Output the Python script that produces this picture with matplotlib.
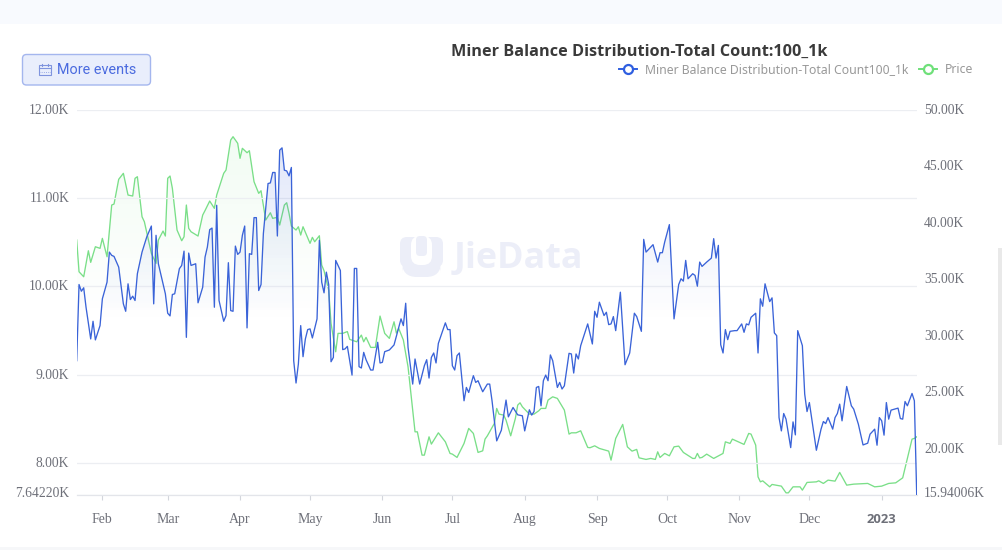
from matplotlib import pyplot as plt
from matplotlib.colors import to_rgb
from matplotlib.lines import Line2D
from matplotlib.patches import FancyBboxPatch, Rectangle
from matplotlib.transforms import ScaledTranslation
import numpy as np
import pandas as pd

plt.rcParams.update({
    'font.family': ['Liberation Serif', 'DejaVu Serif'],
    'figure.dpi': 100,
})

start_date = pd.Timestamp('2022-01-21')

# days since start_date / count
miner_days = [
    0, 1, 2, 3, 4, 6, 7, 8, 10, 11, 13, 14, 15, 16, 18, 20, 21, 22, 23, 24, 25, 26, 28, 30, 32, 33, 34, 35, 38, 39,
    40, 41, 42, 44, 45, 46, 47, 48, 49, 51, 52, 54, 55, 56, 57, 58, 59, 60, 61, 63, 64, 65, 66, 67, 68, 69, 70, 71,
    72, 73, 74, 75, 76, 77, 78, 79, 80, 82, 83, 84, 85, 86, 87, 88, 89, 90, 91, 92, 93, 94, 95, 96, 97, 98, 99, 100,
    101, 103, 104, 105, 106, 107, 108, 109, 110, 111, 113, 114, 115, 116, 118, 119, 120, 121, 122, 123, 124, 126,
    127, 129, 130, 131, 132, 134, 136, 139, 140, 141, 142, 144, 145, 147, 149, 150, 151, 152, 153, 154, 155, 158,
    159, 160, 161, 162, 163, 164, 166, 167, 168, 170, 171, 172, 174, 176, 177, 178, 180, 182, 184, 185, 187, 189,
    191, 192, 194, 195, 196, 197, 198, 199, 200, 201, 202, 203, 204, 206, 207, 208, 209, 211, 212, 213, 214, 215,
    216, 219, 221, 222, 223, 224, 226, 227, 228, 229, 230, 231, 233, 235, 237, 239, 240, 242, 243, 244, 247, 249,
    250, 251, 252, 254, 256, 258, 259, 260, 261, 262, 264, 265, 266, 267, 268, 270, 272, 273, 274, 275, 276, 277,
    278, 279, 280, 282, 283, 285, 286, 287, 288, 289, 291, 292, 293, 294, 295, 297, 298, 299, 300, 301, 302, 303,
    304, 306, 307, 308, 309, 311, 312, 313, 314, 317, 319, 320, 321, 322, 324, 325, 326, 327, 328, 330, 332, 333,
    335, 337, 339, 340, 342, 343, 344, 345, 346, 347, 348, 349, 352, 353, 354, 355, 356, 358, 359, 360,
]
miner_count = [
    9157, 10019, 9943, 9982, 9762, 9403, 9603, 9392, 9554, 9857, 10046, 10386, 10349, 10337, 10216, 9800, 9716,
    10027, 9849, 9887, 9838, 10141, 10386, 10556, 10681, 9800, 10576, 10254, 9914, 9694, 9664, 9906, 9914, 10198,
    10235, 10397, 9421, 10375, 10235, 10254, 9812, 9989, 10329, 10443, 10640, 10658, 9762, 10916, 9838, 9603, 9668,
    10266, 9724, 9716, 10454, 10360, 10386, 10576, 10681, 9528, 10368, 10360, 10776, 10776, 9951, 10019, 10595,
    11162, 11169, 11287, 11287, 10568, 11540, 11566, 11313, 11305, 11249, 11344, 9157, 8904, 9119, 9554, 9202, 9403,
    9509, 9517, 9414, 9630, 10519, 10046, 9925, 10159, 10019, 9145, 9194, 10292, 10178, 9282, 9290, 9319, 8994,
    10201, 10201, 9089, 9074, 9251, 9168, 9051, 9051, 9365, 9131, 9138, 9259, 9278, 9335, 9630, 9554, 9807, 9308,
    8892, 9176, 8892, 9100, 9168, 8960, 9194, 9244, 9131, 9353, 9585, 9509, 9509, 9100, 9051, 9214, 9244, 8703,
    8854, 8797, 8987, 8911, 8930, 8805, 8892, 8892, 8703, 8249, 8370, 8711, 8521, 8627, 8544, 8533, 8362, 8601,
    8541, 8581, 8854, 8865, 8646, 8930, 8994, 8930, 9222, 9157, 8854, 8911, 8836, 8873, 9240, 9233, 9017, 9233,
    9176, 9327, 9573, 9346, 9716, 9648, 9819, 9668, 9705, 9565, 9573, 9656, 9497, 9932, 9111, 9244, 9694, 9656,
    9489, 10530, 10386, 10470, 10273, 10379, 10379, 10500, 10697, 9630, 10019, 10084, 10057, 10292, 10084, 10141,
    10122, 10000, 10273, 10224, 10273, 10318, 10538, 10318, 10462, 9338, 9244, 9509, 9395, 9489, 9497, 9497, 9573,
    9478, 9573, 9562, 9648, 9694, 9244, 9857, 9773, 10027, 9826, 9868, 9471, 9440, 8513, 8362, 8559, 8495, 8173,
    8464, 8317, 9497, 9327, 8779, 8581, 8683, 8143, 8382, 8468, 8445, 8513, 8382, 8513, 8559, 8665, 8476, 8865,
    8646, 8609, 8438, 8203, 8223, 8325, 8382, 8200, 8513, 8476, 8314, 8683, 8495, 8597, 8620, 8502, 8495, 8695,
    8646, 8786, 8703, 7642,
]

price_days = [
    0, 1, 3, 5, 6, 8, 10, 11, 13, 15, 16, 18, 20, 22, 24, 25, 26, 28, 29, 32, 34, 35, 37, 38, 39, 40, 41, 43, 45,
    46, 47, 48, 49, 52, 54, 55, 57, 59, 60, 63, 64, 66, 67, 69, 70, 71, 73, 74, 76, 78, 79, 81, 83, 84, 86, 87, 89,
    90, 91, 92, 94, 95, 96, 97, 100, 101, 102, 104, 105, 106, 108, 109, 111, 112, 114, 116, 117, 120, 122, 123, 124,
    126, 128, 130, 132, 134, 136, 137, 138, 140, 142, 144, 145, 146, 148, 149, 151, 152, 155, 158, 160, 161, 163,
    166, 168, 170, 172, 174, 175, 176, 179, 180, 181, 183, 184, 186, 188, 189, 190, 191, 194, 196, 198, 199, 201,
    202, 204, 206, 209, 211, 212, 214, 216, 219, 220, 222, 224, 228, 229, 231, 234, 236, 238, 240, 241, 244, 246,
    248, 249, 250, 252, 254, 256, 258, 260, 264, 265, 266, 267, 268, 270, 273, 277, 278, 280, 281, 286, 288, 289,
    291, 292, 293, 294, 297, 298, 302, 304, 305, 307, 310, 311, 313, 317, 318, 320, 322, 325, 327, 330, 333, 339,
    342, 345, 348, 351, 354, 356, 358, 359, 360,
]
price = [
    38451, 35645, 35203, 37504, 36477, 37858, 37716, 38601, 36973, 41548, 41637, 43823, 44354, 42433, 42345, 43911,
    44053, 40513, 40070, 37274, 36389, 38451, 39247, 38805, 43911, 44115, 43026, 39336, 38389, 38743, 41548, 39486,
    39185, 38805, 40663, 41061, 41902, 41256, 42433, 44354, 44646, 47301, 47593, 47009, 45681, 46566, 46177, 46354,
    43610, 42584, 42814, 40221, 40867, 40371, 40460, 39778, 41548, 41752, 40814, 39690, 39336, 39628, 38893, 39628,
    38159, 38690, 38300, 38831, 36238, 35734, 34026, 31079, 28565, 30194, 30194, 30353, 29663, 29450, 30043, 29450,
    29840, 28955, 28955, 31725, 30194, 29751, 31220, 30220, 30636, 29601, 27238, 23406, 21485, 21485, 19423, 19423,
    21043, 20397, 21397, 20600, 19574, 19512, 19220, 20459, 21786, 21344, 19662, 19804, 20839, 21131, 22229, 23556,
    23052, 22963, 22521, 21131, 22671, 23848, 24052, 23698, 23052, 23052, 23344, 23556, 23556, 24291, 24583, 24441,
    23406, 21282, 21397, 21397, 21574, 20105, 20078, 20246, 20016, 19777, 18981, 20901, 22140, 20158, 19777, 19928,
    19184, 19043, 19131, 19043, 19715, 19220, 19574, 19361, 20158, 20220, 19662, 19131, 19131, 19574, 19175, 19220,
    19512, 19131, 19574, 20600, 20459, 20839, 20370, 21344, 21282, 20308, 17503, 17060, 17149, 16618, 16830, 16680,
    16087, 16087, 16618, 16618, 16326, 17007, 17060, 17149, 16919, 17211, 17122, 17892, 16768, 16857, 16919, 16618,
    16680, 16919, 16972, 17414, 19131, 20839, 20901, 21043,
]

left_ticks = [7642.2, 8000, 9000, 10000, 11000, 12000]
left_labels = ['7.64220K', '8.00K', '9.00K', '10.00K', '11.00K', '12.00K']
right_ticks = [15940.06, 20000, 25000, 30000, 35000, 40000, 45000, 50000]
right_labels = ['15.94006K', '20.00K', '25.00K', '30.00K', '35.00K', '40.00K', '45.00K', '50.00K']
month_labels = ['Feb', 'Mar', 'Apr', 'May', 'Jun', 'Jul', 'Aug', 'Sep', 'Oct', 'Nov', 'Dec', '2023']
month_days = (pd.date_range('2022-02-01', '2023-01-01', freq='MS') - start_date).days

title = 'Miner Balance Distribution-Total Count:100_1k'
miner_name = 'Miner Balance Distribution-Total Count100_1k'
price_name = 'Price'

blue = '#3A63D8'
green = '#7ADF88'
label_color = '#6E7079'
W, H = 1002, 550
UI_FONT = ['Noto Sans', 'DejaVu Sans']
BOLD_FONT = ['Open Sans', 'DejaVu Sans']


def gradient_fill(ax, x, y, color, alpha_top):
    """Fill under a line, fading out about half way down from the series top."""
    rgba = np.zeros((100, 1, 4))
    rgba[:, :, :3] = to_rgb(color)
    rgba[:, 0, 3] = alpha_top * np.clip(1 - np.linspace(0, 1, 100) / 0.5, 0, 1)
    y0 = ax.get_ylim()[0]
    im = ax.imshow(rgba, aspect='auto', origin='upper', zorder=1,
                   extent=[x[0], x[-1], y0, max(y)])
    poly = ax.fill_between(x, y0, y, color='none')
    im.set_clip_path(poly.get_paths()[0], transform=ax.transData)


def nudge_labels(ax, fig):
    """Value labels sit a little above their grid lines, the lowest one more."""
    ticks = ax.yaxis.get_major_ticks()
    for i, tick in enumerate(ticks):
        dy = 2.5 if i == 0 else 1
        for label in (tick.label1, tick.label2):
            label.set_transform(label.get_transform() + ScaledTranslation(0, dy / 100, fig.dpi_scale_trans))


fig = plt.figure(figsize=(W / 100, H / 100), dpi=100, facecolor='white')

# page furniture, in pixels
bg = fig.add_axes([0, 0, 1, 1], zorder=0)
bg.set_xlim(0, W)
bg.set_ylim(H, 0)
bg.axis('off')
bg.add_patch(Rectangle((0, 0), W, 24, fc='#F8FAFE', ec='none'))
bg.add_patch(Rectangle((0, 547), W, 3, fc='#F6F7F9', ec='none'))
bg.add_patch(Rectangle((998, 248), 4, 197, fc='#E9E9E9', ec='none'))

# watermark
bg.add_patch(FancyBboxPatch((403, 240), 37, 24, boxstyle='round,pad=3,rounding_size=7',
                            fc='#ECEEF8', ec='none'))
bg.add_patch(FancyBboxPatch((402, 258), 39, 19, boxstyle='round,pad=0,rounding_size=15',
                            fc='#ECEEF8', ec='none'))
bg.add_patch(FancyBboxPatch((411, 236), 21, 29, boxstyle='round,pad=0,rounding_size=9',
                            fc='white', ec='none'))
bg.add_patch(FancyBboxPatch((416, 236), 11, 20, boxstyle='round,pad=0,rounding_size=4',
                            fc='#ECEEF8', ec='none'))
bg.text(454, 259, 'JieData', family=BOLD_FONT, fontsize=25.8, fontweight='bold', color='#ECEEF8',
        ha='left', va='center')

# button
bg.add_patch(FancyBboxPatch((25, 57), 123, 25.5, boxstyle='round,pad=2.5,rounding_size=4',
                            fc='#E9EEFC', ec='#A4B6EE', lw=1))
bg.add_patch(Rectangle((39.5, 65), 11.5, 10, fc='none', ec='#7F94DE', lw=0.8))
bg.plot([39.5, 51], [68, 68], color='#7F94DE', lw=0.8)
bg.plot([39.5, 51], [71.5, 71.5], color='#7F94DE', lw=0.6, ls=':')
bg.plot([42, 42], [63.5, 66], color='#7F94DE', lw=0.8)
bg.plot([48.5, 48.5], [63.5, 66], color='#7F94DE', lw=0.8)
bg.text(57, 69.5, 'More events', family=['Roboto', 'DejaVu Sans'], fontsize=10.4, color='#4B6BDF',
        ha='left', va='center')

bg.text(639, 52, title, family=BOLD_FONT, fontsize=11.7, fontweight='bold', color='#3A3A3A',
        ha='center', va='center')

box = [76.7 / W, 1 - 494.5 / H, (916.7 - 76.7) / W, (494.5 - 109.5) / H]

# price sits behind the miner count, right axis
ax2 = fig.add_axes(box, zorder=1)
ax2.patch.set_visible(False)
ax2.yaxis.tick_right()
ax2.set_ylim(right_ticks[0], right_ticks[-1])
ax2.set_xlim(0, 360)
gradient_fill(ax2, price_days, price, '#7ADF88', 0.1)
ax2.plot(price_days, price, color=green, lw=0.95, zorder=3)
ax2.set_xlim(0, 360)
ax2.set_ylim(right_ticks[0], right_ticks[-1])
ax2.set_yticks(right_ticks, right_labels)
ax2.tick_params(axis='y', length=0, pad=5.2, labelsize=9.8, labelcolor=label_color)
ax2.set_xticks([])
for s in ax2.spines.values():
    s.set_visible(False)

ax = fig.add_axes(box, zorder=2)
ax.patch.set_visible(False)
ax.set_ylim(left_ticks[0], left_ticks[-1])
ax.set_xlim(0, 360)
gradient_fill(ax, miner_days, miner_count, '#3A63D8', 0.15)
ax.plot(miner_days, miner_count, color=blue, lw=0.95, zorder=3)
ax.set_xlim(0, 360)
ax.set_ylim(left_ticks[0], left_ticks[-1])
ax.set_yticks(left_ticks, left_labels)
ax.set_xticks(month_days, month_labels)
ax.grid(True, axis='y', color='#ECEEF2', lw=0.9, zorder=0)
ax.set_axisbelow(True)
ax.tick_params(axis='y', length=0, pad=5.3, labelsize=9.8, labelcolor=label_color)
ax.tick_params(axis='x', length=3.5, width=0.8, color='#D3D6DC', pad=10, labelsize=10,
               labelcolor=label_color)
xlabels = ax.get_xticklabels()
xlabels[-1].set_family(BOLD_FONT)
xlabels[-1].set_fontweight('bold')
xlabels[-1].set_fontsize(9.4)
for s in ax.spines.values():
    s.set_visible(False)
ax.spines['bottom'].set_visible(True)
ax.spines['bottom'].set_color('#E3E5EA')
ax.spines['bottom'].set_linewidth(0.9)

nudge_labels(ax, fig)
nudge_labels(ax2, fig)

handles = [
    Line2D([], [], color='#2F5FE0', lw=1.4, marker='o', ms=6.5, mfc='white', mec='#2F5FE0', mew=1.6),
    Line2D([], [], color='#6FE07A', lw=1.4, marker='o', ms=6.5, mfc='white', mec='#6FE07A', mew=1.6),
]
leg = fig.legend(handles, [miner_name, price_name], ncols=2, loc='center right',
                 bbox_to_anchor=(973 / W, 1 - 70 / H), frameon=False, borderpad=0, borderaxespad=0,
                 handlelength=1.47, handletextpad=0.65, columnspacing=0.88,
                 prop={'family': UI_FONT, 'size': 8.8})
for t in leg.get_texts():
    t.set_color('#999999')

plt.savefig('out.png', dpi=100)
